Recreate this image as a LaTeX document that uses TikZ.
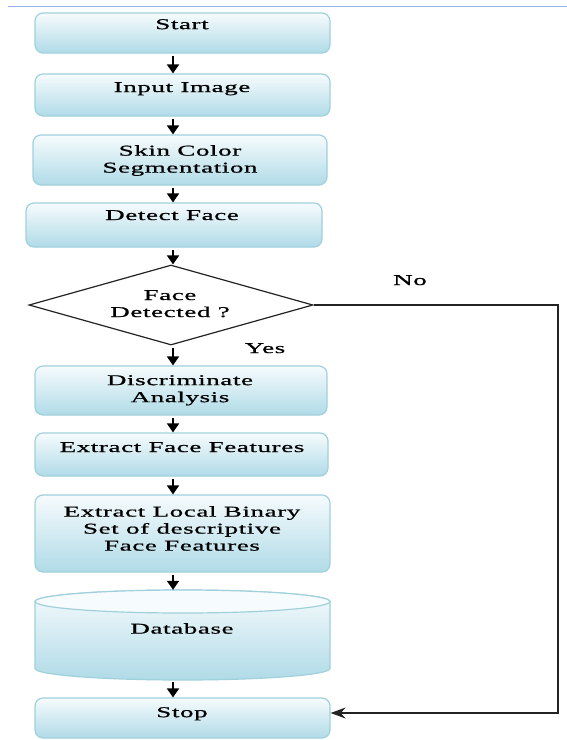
\documentclass[tikz,border=0pt]{standalone}
\usepackage{fontspec}
\setmainfont{Liberation Serif}[FakeStretch=1.8,LetterSpace=4,FakeBold=0.8]
\usetikzlibrary{shapes.geometric,arrows.meta}
\definecolor{bx}{RGB}{160,208,220}
\definecolor{bxtop}{RGB}{246,251,253}
\definecolor{bxbot}{RGB}{176,219,231}
\definecolor{topline}{RGB}{150,180,232}
\definecolor{dk}{RGB}{35,35,35}
\tikzset{
  box/.style={draw=bx, line width=1.2pt, rounded corners=8pt, top color=bxtop, bottom color=bxbot, inner sep=0pt},
  txt/.style={anchor=north, inner sep=0pt, align=center, font=\fontsize{15}{17}\selectfont, text=black},
  varr/.style={line width=1.8pt, -{Triangle[width=12pt,length=9pt]}, shorten <=2pt},
  narr/.style={line width=1.6pt, draw=dk, -{Stealth[width=11pt,length=15pt]}},
}
\begin{document}
\begin{tikzpicture}[x=1pt,y=-1pt]
\useasboundingbox (0,0) rectangle (567,740);
\draw[topline, line width=1pt] (8,6) -- (567,6);
\coordinate (ax) at (173,0);
% boxes
\node[box, minimum width=295pt, minimum height=40pt] (start) at (182.5,33) {};
\node[txt] (tstart) at (182,19) {Start};
\node[box, minimum width=295pt, minimum height=42pt] (input) at (182.5,95) {};
\node[txt] (tinput) at (182,82) {Input Image};
\node[box, minimum width=294pt, minimum height=50pt] (skin) at (180,160) {};
\node[txt] (tskin) at (180,145) {Skin Color\\Segmentation};
\node[box, minimum width=296pt, minimum height=44pt] (detect) at (174,225) {};
\node[txt] (tdetect) at (172,210) {Detect Face};
\node[draw=dk, line width=1.2pt, diamond, inner sep=0pt, minimum width=284pt, minimum height=80pt, fill=white] (dia) at (171,305) {};
\node[txt] (tdia) at (170,290) {Face\\Detected ?};
\node[txt] (tno) at (410,275) {No};
\node[txt] (tyes) at (265,343) {Yes};
\node[box, minimum width=292pt, minimum height=49pt] (discr) at (181,390.5) {};
\node[txt] (tdiscr) at (180,375) {Discriminate\\Analysis};
\node[box, minimum width=293pt, minimum height=43pt] (eff) at (181.5,454.5) {};
\node[txt] (teff) at (182,442) {Extract Face Features};
\node[box, minimum width=295pt, minimum height=77pt] (elb) at (182.5,533.5) {};
\node[txt] (telb) at (182,506) {Extract Local Binary\\Set of descriptive\\Face Features};
% database
\node[minimum width=295pt, minimum height=90pt, inner sep=0pt] (db) at (182.5,635) {};
\shade[top color=bxtop, bottom color=bxbot, draw=bx, line width=1.2pt]
  (35,601.5) -- (35,668.5) arc[start angle=180, end angle=0, x radius=147.5, y radius=11.5]
  -- (330,601.5) arc[start angle=0, end angle=-180, x radius=147.5, y radius=11.5] -- cycle;
\draw[draw=bx, line width=1.2pt, fill=bxtop] (182.5,601.5) ellipse[x radius=147.5, y radius=11.5];
\node[txt] (tdb) at (182,623) {Database};
\node[box, minimum width=295pt, minimum height=40pt] (stop) at (182.5,718) {};
\node[txt] (tstop) at (182,707) {Stop};
% arrows
\draw[varr] (start.south -| ax) -- (input.north -| ax);
\draw[varr] (input.south -| ax) -- (skin.north -| ax);
\draw[varr] (skin.south -| ax) -- (detect.north -| ax);
\draw[varr] (detect.south -| ax) -- (dia.north -| ax);
\draw[varr] (dia.south -| ax) -- (discr.north -| ax);
\draw[varr] (discr.south -| ax) -- (eff.north -| ax);
\draw[varr] (eff.south -| ax) -- (elb.north -| ax);
\draw[varr] (elb.south -| ax) -- (db.north -| ax);
\draw[varr] (db.south -| ax) -- (stop.north -| ax);
\coordinate (c1) at (558,305);
\coordinate (c2) at (558,713);
\draw[narr] (dia.east) -- (c1) -- (c2) -- (c2 -| stop.east);
\end{tikzpicture}
\end{document}
